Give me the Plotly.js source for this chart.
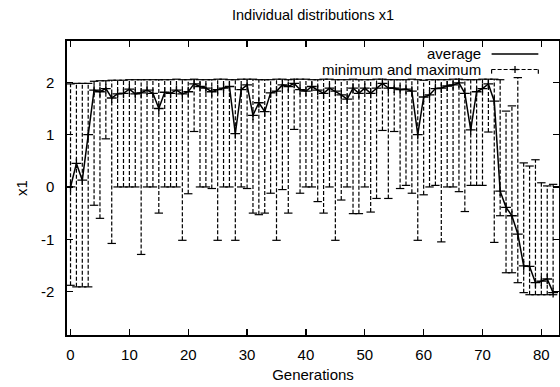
<!DOCTYPE html>
<html><head><meta charset="utf-8">
<script src="https://cdn.plot.ly/plotly-3.0.1.min.js"></script>
<style>html,body{margin:0;padding:0;background:#fff}#chart{width:560px;height:387px}</style>
</head><body><div id="chart"></div>
<script>
const generations = [0,1,2,3,4,5,6,7,8,9,10,11,12,13,14,15,16,17,18,19,20,21,22,23,24,25,26,27,28,29,30,31,32,33,34,35,36,37,38,39,40,41,42,43,44,45,46,47,48,49,50,51,52,53,54,55,56,57,58,59,60,61,62,63,64,65,66,67,68,69,70,71,72,73,74,75,76,77,78,79,80,81,82];
const average = [
 0.00,0.45,0.13,1.00,1.85,1.82,1.88,1.70,1.78,1.79,
 1.87,1.78,1.80,1.85,1.79,1.50,1.81,1.79,1.85,1.78,
 1.82,1.97,1.92,1.89,1.82,1.86,1.89,1.92,1.02,1.86,
 1.95,1.37,1.61,1.44,1.80,1.83,1.95,1.92,1.98,1.86,
 1.83,1.92,1.85,1.79,1.89,1.83,1.76,1.68,1.89,1.79,
 1.89,1.79,1.89,1.98,1.89,1.89,1.86,1.87,1.83,1.00,
 1.72,1.76,1.88,1.89,1.93,1.95,1.99,1.79,1.09,1.82,
 1.88,1.97,1.64,-0.08,-0.39,-0.55,-0.90,-1.51,-1.52,-1.83,
 -1.80,-1.76,-2.02];
const minimum = [
 -1.88,-1.91,-1.91,-1.91,-0.35,-0.60,0.92,-1.08,0.00,0.00,
 0.00,0.00,-1.29,0.00,0.00,-0.50,0.00,0.00,0.00,-1.02,
 -0.13,1.06,0.00,0.00,-0.03,-1.02,0.00,0.00,-1.02,0.00,
 -0.03,-0.50,-0.53,-0.50,-0.12,-1.02,-0.05,-0.50,1.10,-0.12,
 0.00,0.00,-0.28,-0.50,0.00,-1.02,-0.25,0.00,-0.51,-0.51,
 0.00,-0.48,-0.22,1.08,-0.22,1.06,-0.03,0.03,-0.12,-1.02,
 -0.15,0.00,0.03,-1.05,0.00,0.00,-0.09,-0.47,0.03,0.03,
 0.03,1.05,-1.06,-0.55,-1.64,-1.64,-1.83,-2.02,-2.06,-2.06,
 -2.06,-2.06,-2.06];
const maximum = [
 1.97,1.98,1.98,1.98,2.02,2.03,2.03,2.04,2.04,2.04,
 2.05,2.05,2.05,2.05,2.05,2.05,2.05,2.05,2.06,2.05,
 2.05,2.06,2.05,2.05,2.05,2.06,2.06,2.05,2.05,2.06,
 2.06,2.06,2.05,2.05,2.05,2.06,2.06,2.05,2.06,2.06,
 2.06,2.05,2.05,2.06,2.06,2.05,2.05,2.05,2.06,2.05,
 2.05,2.05,2.06,2.06,2.05,2.05,2.05,2.05,2.06,2.05,
 2.04,2.05,2.05,2.05,2.05,2.06,2.06,2.05,2.05,2.05,
 2.06,2.06,2.06,2.05,1.45,1.55,2.09,0.46,0.40,0.52,
 0.08,0.02,0.05];
const xTickVals = [0,10,20,30,40,50,60,70,80];
const xTickText = ['0','10','20','30','40','50','60','70','80'];
const yTickVals = [-2,-1,0,1,2];
const yTickText = ['-2','-1','0','1','2'];
const seriesNames = ['average','minimum and maximum'];

// vertical min-max bars built from the data arrays
const barX = [], barY = [];
generations.forEach(function(g, i){ barX.push(g, g, null); barY.push(minimum[i], maximum[i], null); });

const FONT = 'Liberation Sans, Arial, Helvetica, sans-serif';
const INK = '#000';
const DASH = '4px,2px';
const traces = [
  {x: barX, y: barY, mode: 'lines', line: {color: INK, width: 1.2, dash: DASH}, hoverinfo: 'skip', showlegend: false, name: seriesNames[1]},
  {x: generations.concat(generations), y: minimum.concat(maximum), mode: 'markers',
   marker: {symbol: 'line-ew', size: 6, color: INK, line: {color: INK, width: 1.2}}, showlegend: false, hoverinfo: 'skip'},
  {x: generations, y: average, mode: 'lines', line: {color: '#000', width: 1.5}, showlegend: false, name: seriesNames[0]},
  {x: generations, y: average, mode: 'markers',
   marker: {symbol: 'cross-thin', size: 7, color: '#000', line: {color: '#000', width: 1.3}}, showlegend: false, hoverinfo: 'skip'}
];

const axisCommon = {
  ticks: 'inside', ticklen: 6, tickwidth: 1.3, tickcolor: '#000',
  showline: true, linecolor: '#000', linewidth: 1.6, mirror: 'ticks',
  showgrid: false, zeroline: false, tickfont: {size: 15, color: '#000'}
};

const legendY1 = 0.956, legendY2 = 0.903, sx0 = 0.863, sx1 = 0.958, sxm = 0.9106;
const layout = {
  width: 560, height: 387,
  margin: {l: 67, r: 1, t: 41, b: 52},
  paper_bgcolor: '#fff', plot_bgcolor: '#fff',
  font: {family: FONT, size: 15, color: '#000'},
  showlegend: false,
  title: {text: 'Individual distributions x1', x: 0.5, xref: 'paper', xanchor: 'center',
          y: 1 - 14.5/387, yref: 'container', yanchor: 'middle', font: {size: 14.5, color: '#000'}},
  xaxis: Object.assign({}, axisCommon, {range: [-0.6, 83.0], tickmode: 'array', tickvals: xTickVals, ticktext: xTickText,
          ticklabelstandoff: 5, title: {text: 'Generations', standoff: 8, font: {size: 15}}}),
  yaxis: Object.assign({}, axisCommon, {range: [-2.83, 2.79], tickmode: 'array', tickvals: yTickVals, ticktext: yTickText,
          ticklabelstandoff: 8, title: {text: 'x1', standoff: 10, font: {size: 15}}}),
  annotations: [
    {text: seriesNames[0], xref: 'paper', yref: 'paper', x: 0.8455, y: legendY1, xanchor: 'right', yanchor: 'middle', showarrow: false, font: {size: 15}},
    {text: seriesNames[1], xref: 'paper', yref: 'paper', x: 0.8455, y: legendY2, xanchor: 'right', yanchor: 'middle', showarrow: false, font: {size: 15}}
  ],
  shapes: [
    {type: 'line', xref: 'paper', yref: 'paper', x0: sx0, x1: sx1, y0: legendY1, y1: legendY1, line: {color: '#000', width: 1.5}},
    {type: 'line', xref: 'paper', yref: 'paper', x0: sx0, x1: sx1, y0: legendY2, y1: legendY2, line: {color: INK, width: 1.2, dash: DASH}},
    {type: 'line', xref: 'paper', yref: 'paper', x0: sx0, x1: sx0, y0: legendY2, y1: legendY2 - 0.014, line: {color: INK, width: 1.2}},
    {type: 'line', xref: 'paper', yref: 'paper', x0: sx1, x1: sx1, y0: legendY2, y1: legendY2 - 0.014, line: {color: INK, width: 1.2}},
    {type: 'line', xref: 'paper', yref: 'paper', x0: sxm - 0.007, x1: sxm + 0.007, y0: legendY2, y1: legendY2, line: {color: INK, width: 1.3}},
    {type: 'line', xref: 'paper', yref: 'paper', x0: sxm, x1: sxm, y0: legendY2 - 0.012, y1: legendY2 + 0.012, line: {color: INK, width: 1.3}}
  ]
};

Plotly.newPlot('chart', traces, layout, {staticPlot: true, displayModeBar: false});
</script>
</body></html>
